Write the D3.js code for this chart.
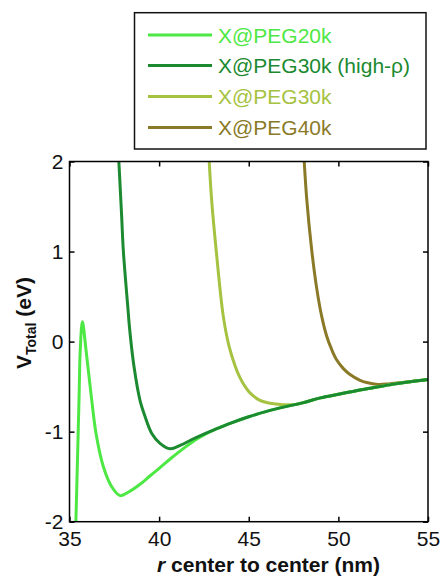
<!DOCTYPE html>
<html>
<head>
<meta charset="utf-8">
<script src="https://cdn.jsdelivr.net/npm/d3@7"></script>
<style>
  html, body { margin: 0; padding: 0; background: #fff; }
  svg { display: block; font-family: "Liberation Sans", Arial, sans-serif; }
</style>
</head>
<body>
<svg id="chart" width="441" height="577"></svg>
<script>
// ---- data ----
const seriesNames = ["X@PEG20k", "X@PEG30k (high-\u03C1)", "X@PEG30k", "X@PEG40k"];
const seriesColors = ["#4de843", "#1b8a30", "#a5c240", "#8a7a28"];

// shared long-range tail where the curves coincide
const tailR = [43.0, 44.0, 45.0, 46.0, 47.0, 48.0, 49.0, 50.0, 51.0, 52.0, 53.0, 54.0, 55.0];
const tailV = [-0.985, -0.905, -0.835, -0.775, -0.725, -0.68, -0.625, -0.585, -0.545, -0.51, -0.475, -0.445, -0.42];

const r20k = [35.35, 35.53, 35.60, 35.72, 35.92, 36.24, 36.48, 36.89, 37.35, 37.82, 38.3, 38.9, 39.5, 40.05, 40.7, 41.4, 42.2];
const v20k = [-2.05, -0.65, -0.09, 0.22, -0.09, -0.65, -1.02, -1.39, -1.61, -1.71, -1.67, -1.59, -1.49, -1.40, -1.29, -1.18, -1.07];

const rHigh = [37.74, 37.91, 38.0, 38.25, 38.38, 38.6, 38.93, 39.21, 39.59, 40.05, 40.61, 41.2, 41.8, 42.4];
const vHigh = [2.05, 1.39, 1.02, 0.39, 0.09, -0.28, -0.65, -0.83, -1.02, -1.13, -1.19, -1.15, -1.09, -1.035];

const r30k = [42.78, 42.93, 43.18, 43.58, 43.9, 44.24, 44.51, 44.8, 45.07, 45.6, 46.19, 46.9, 47.6];
const v30k = [2.05, 1.57, 1.02, 0.28, -0.05, -0.27, -0.40, -0.50, -0.57, -0.65, -0.685, -0.70, -0.697];

const r40k = [48.08, 48.24, 48.51, 48.8, 49.07, 49.35, 49.63, 49.91, 50.28, 50.65, 51.21, 51.58, 52.2, 52.8];
const v40k = [2.05, 1.57, 1.02, 0.58, 0.28, 0.06, -0.09, -0.205, -0.30, -0.365, -0.43, -0.455, -0.475, -0.47];

const xTicks = [35, 40, 45, 50, 55];
const yTicks = [-2, -1, 0, 1, 2];

// ---- layout ----
const svg = d3.select("#chart");
const L = 69.5, R = 428, T = 161.5, B = 521.7;
const x = d3.scaleLinear().domain([35, 55]).range([L, R]);
const y = d3.scaleLinear().domain([-2, 2]).range([B, T]);
const fontSize = 21;
const fmt = d => String(d);

svg.append("defs").append("clipPath").attr("id", "plotclip")
  .append("rect").attr("x", L).attr("y", T).attr("width", R - L).attr("height", B - T);

function withTail(rs, vs) {
  const last = rs[rs.length - 1];
  const pts = rs.map((r, i) => [r, vs[i]]);
  tailR.forEach((r, i) => { if (r > last + 0.3) pts.push([r, tailV[i]]); });
  return pts;
}

// curves (drawn so later ones sit on top)
const series = [
  { pts: withTail(r40k, v40k), c: seriesColors[3] },
  { pts: withTail(r30k, v30k), c: seriesColors[2] },
  { pts: withTail(r20k, v20k), c: seriesColors[0] },
  { pts: withTail(rHigh, vHigh), c: seriesColors[1] }
];
const line = d3.line().x(d => x(d[0])).y(d => y(d[1])).curve(d3.curveCatmullRom.alpha(0.5));
const g = svg.append("g").attr("clip-path", "url(#plotclip)");
series.forEach(s => {
  g.append("path")
    .attr("d", line(s.pts))
    .attr("fill", "none").attr("stroke", s.c).attr("stroke-width", 3)
    .attr("stroke-linejoin", "round").attr("stroke-linecap", "round");
});

// axes
function styleAxis(sel, showText) {
  sel.select(".domain").remove();
  sel.selectAll(".tick line").attr("stroke", "#000").attr("stroke-width", 1.5);
  sel.selectAll(".tick text").attr("fill", "#111").style("font-size", fontSize + "px")
    .style("font-family", '"Liberation Sans", Arial, sans-serif');
  if (!showText) sel.selectAll(".tick text").remove();
}
svg.append("g").attr("transform", `translate(0,${B})`)
  .call(d3.axisBottom(x).tickValues(xTicks).tickSizeInner(-5).tickSizeOuter(0).tickPadding(9).tickFormat(fmt))
  .call(s => styleAxis(s, true));
svg.append("g").attr("transform", `translate(0,${T})`)
  .call(d3.axisTop(x).tickValues(xTicks).tickSizeInner(-5).tickSizeOuter(0))
  .call(s => styleAxis(s, false));
svg.append("g").attr("transform", `translate(${L},0)`)
  .call(d3.axisLeft(y).tickValues(yTicks).tickSizeInner(-5).tickSizeOuter(0).tickPadding(6).tickFormat(fmt))
  .call(s => styleAxis(s, true));
svg.append("g").attr("transform", `translate(${R},0)`)
  .call(d3.axisRight(y).tickValues(yTicks).tickSizeInner(-5).tickSizeOuter(0))
  .call(s => styleAxis(s, false));

// frame
svg.append("rect").attr("x", L).attr("y", T).attr("width", R - L).attr("height", B - T)
  .attr("fill", "none").attr("stroke", "#000").attr("stroke-width", 1.5);

// x title
const xt = svg.append("text").attr("x", 157).attr("y", 572)
  .style("font-size", "21px").style("font-weight", "bold").attr("fill", "#111");
xt.append("tspan").style("font-style", "italic").text("r");
xt.append("tspan").text(" center to center (nm)");

// y title
const yt = svg.append("text").attr("transform", "translate(31,323) rotate(-90)")
  .attr("text-anchor", "middle").style("font-size", "21px").style("font-weight", "bold").attr("fill", "#111");
yt.append("tspan").text("V");
yt.append("tspan").attr("dy", 5).style("font-size", "14px").text("Total");
yt.append("tspan").attr("dy", -5).text(" (eV)");

// legend
const leg = svg.append("g");
leg.append("rect").attr("x", 134.5).attr("y", 12.7).attr("width", 291.5).attr("height", 136.3)
  .attr("fill", "#fff").attr("stroke", "#111").attr("stroke-width", 1.5);
const rowY = [35, 65.5, 96.5, 127.5];
seriesNames.forEach((name, i) => {
  leg.append("line").attr("x1", 148).attr("x2", 212).attr("y1", rowY[i]).attr("y2", rowY[i])
    .attr("stroke", seriesColors[i]).attr("stroke-width", 3);
  leg.append("text").attr("x", 218).attr("y", rowY[i]).attr("dy", "0.36em")
    .style("font-size", "21px").attr("fill", seriesColors[i]).text(name);
});
</script>
</body>
</html>
